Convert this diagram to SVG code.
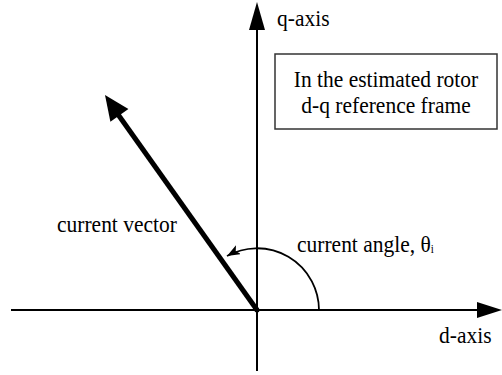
<svg xmlns="http://www.w3.org/2000/svg" width="502" height="375" viewBox="0 0 502 375">
  <style>
    .t { font-family: "Liberation Serif", "Times New Roman", serif; font-size: 21.5px; fill: #000; }
    .ax { stroke: #000; stroke-width: 2; fill: none; }
  </style>
  <defs>
    <marker id="arcHead" markerUnits="userSpaceOnUse" markerWidth="14" markerHeight="12" refX="13" refY="5" orient="auto">
      <path d="M0,0 L13,5 L0,10 L3,5 Z" fill="#000"/>
    </marker>
  </defs>
  <rect width="502" height="375" fill="#fff"/>
  <g id="connectors">
    <line class="ax" x1="11" y1="310" x2="480" y2="310"/>
    <polygon points="502,310 477,302 477,318" fill="#000"/>
    <line class="ax" x1="257" y1="371" x2="257" y2="28"/>
    <polygon points="257,2 249,30 265,30" fill="#000"/>
    <line x1="257" y1="310" x2="117" y2="113" stroke="#000" stroke-width="5"/>
    <polygon points="105,95 128.4,109.1 110.4,121.8" fill="#000"/>
    <path d="M 319 310 A 62 62 0 0 0 227 256" fill="none" stroke="#000" stroke-width="1.8" marker-end="url(#arcHead)"/>
    <circle cx="257" cy="310" r="2.5" fill="#000"/>
  </g>
  <g id="q-axis-label">
    <text class="t" transform="translate(277,26) scale(1,1.12)">q-axis</text>
  </g>
  <g id="d-axis-label">
    <text class="t" transform="translate(439,343) scale(1,1.12)">d-axis</text>
  </g>
  <g id="frame-box">
    <rect x="275" y="54" width="222" height="75" fill="#fff" stroke="#333" stroke-width="1.5"/>
    <text class="t" transform="translate(386,87) scale(1,1.12)" text-anchor="middle">In the estimated rotor</text>
    <text class="t" transform="translate(386,113) scale(1,1.12)" text-anchor="middle">d-q reference frame</text>
  </g>
  <g id="current-vector-label">
    <text class="t" transform="translate(57,232) scale(1,1.12)">current vector</text>
  </g>
  <g id="current-angle-label">
    <text class="t" transform="translate(297,252) scale(1,1.12)">current angle, θ<tspan font-size="11" dy="1">i</tspan></text>
  </g>
</svg>
